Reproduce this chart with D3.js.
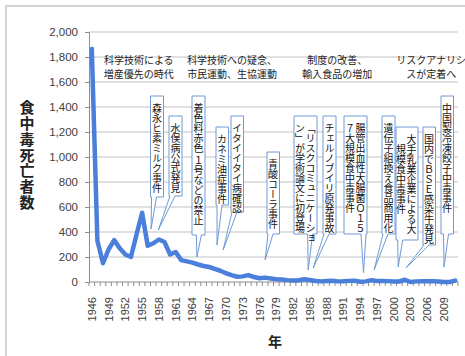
<!DOCTYPE html>
<html>
<head>
<meta charset="utf-8">
<script src="https://cdn.jsdelivr.net/npm/d3@7"></script>
<style>
  body { margin: 0; background: #fff; }
  svg { display: block; font-family: "Liberation Sans", Arial, sans-serif; }
  .jp { font-family: "Noto Sans CJK JP", sans-serif; }
</style>
</head>
<body>
<div id="chart"></div>
<script>
// years on the category axis
var years = [1946,1947,1948,1949,1950,1951,1952,1953,1954,1955,
             1956,1957,1958,1959,1960,1961,1962,1963,1964,1965,
             1966,1967,1968,1969,1970,1971,1972,1973,1974,1975,
             1976,1977,1978,1979,1980,1981,1982,1983,1984,1985,
             1986,1987,1988,1989,1990,1991,1992,1993,1994,1995,
             1996,1997,1998,1999,2000,2001,2002,2003,2004,2005,
             2006,2007,2008,2009,2010,2011];

// food poisoning deaths
var deaths = [1865, 330, 150, 260, 335, 270, 220, 200, 380, 554,
              290, 310, 340, 320, 220, 240, 175, 165, 155, 140,
              128, 120, 105, 90, 70, 55, 42, 45, 55, 40,
              30, 35, 28, 22, 20, 15, 12, 14, 22, 16,
              8, 5, 8, 10, 5, 6, 9, 10, 2, 5,
              15, 8, 9, 7, 4, 4, 18, 0, 5, 7,
              6, 7, 4, 0, 0, 11];

var yTicks = [0, 200, 400, 600, 800, 1000, 1200, 1400, 1600, 1800, 2000];
var xLabelYears = [1946,1949,1952,1955,1958,1961,1964,1967,1970,1973,1976,
                   1979,1982,1985,1988,1991,1994,1997,2000,2003,2006,2009];

// period labels: [centre year, line 1, line 2]
var periods = [
  [1954.4, "科学技術による", "増産優先の時代"],
  [1971.1, "科学技術への疑念、", "市民運動、生協運動"],
  [1989.9, "制度の改善、", "輸入食品の増加"],
  [2006.7, "リスクアナリシ", "スが定着へ"]
];

// callouts: columns of vertical text (right to left) and the point they refer to
var eventCols = [
  ["森永ヒ素ミルク事件"],
  ["水俣病公式発見"],
  ["着色料赤色 １号などの禁止"],
  ["カネミ油症事件"],
  ["イタイイタイ病確認"],
  ["青酸コーラ事件"],
  ["「リスクコミュニケーショ", "ン」が学術論文に初登場"],
  ["チェルノブイリ原発事故"],
  ["腸管出血性大腸菌Ｏ１５", "７大規模食中毒事件"],
  ["遺伝子組換え食品商用化"],
  ["大手乳業企業による大", "　規模食中毒事件"],
  ["国内でＢＳＥ感染牛発見"],
  ["中国製冷凍餃子中毒事件"]
];
var eventYears = [1956.6, 1957.9, 1964.8, 1968.4, 1969.5, 1977.0, 1984.7,
                  1985.6, 1994.6, 1996.5, 2000.8, 2002.2, 2009.0];
var eventVals = [424, 416, 200, 296, 256, 176, 96, 112, 72, 96, 120, 112, 120];

// box layout (left, top, width, height) in px
var boxes = [
  [150.5, 96, 13, 101], [169, 116, 13, 80], [192, 96, 13, 139],
  [216, 127, 12.5, 78], [231, 116, 12.5, 96], [267, 152, 12.5, 82],
  [294, 116, 23, 118], [323, 116, 13, 118], [344, 116, 23, 118],
  [382, 116, 13, 118], [396, 127, 22, 113], [423, 127, 12.5, 118],
  [441, 96, 12.5, 138]
];

var W = 465, H = 356;
var margin = {top: 32, right: 7, bottom: 74, left: 89};

var svg = d3.select("#chart").append("svg")
    .attr("width", W)
    .attr("height", H);

svg.append("rect").attr("width", W).attr("height", H).attr("fill", "#fff");

// outer frame (runs off the right and bottom edge)
svg.append("rect")
    .attr("x", 6).attr("y", 6)
    .attr("width", 480).attr("height", 380)
    .attr("fill", "none")
    .attr("stroke", "#d4d4d4")
    .attr("stroke-width", 2);

var x = d3.scaleBand()
    .domain(years)
    .range([margin.left, W - margin.right])
    .padding(0);
var bw = x.bandwidth();

var y = d3.scaleLinear()
    .domain([0, 2000])
    .range([H - margin.bottom, margin.top]);

// continuous year scale for annotations
var xYear = d3.scaleLinear()
    .domain([years[0], years[years.length - 1]])
    .range([x(years[0]) + bw / 2, x(years[years.length - 1]) + bw / 2]);

// gridlines
svg.append("g")
  .selectAll("line")
  .data(yTicks.slice(1))
  .enter().append("line")
    .attr("x1", margin.left)
    .attr("x2", W - margin.right)
    .attr("y1", function(d) { return y(d); })
    .attr("y2", function(d) { return y(d); })
    .attr("stroke", "#d6d6d6")
    .attr("stroke-width", 1.5);

// y axis
var yAxis = svg.append("g")
    .attr("transform", "translate(" + margin.left + ",0)")
    .call(d3.axisLeft(y).tickValues(yTicks).tickFormat(d3.format(",")).tickSize(4).tickPadding(7));
yAxis.select(".domain").attr("stroke", "#8c8c8c");
yAxis.selectAll(".tick line").attr("stroke", "#8c8c8c");
yAxis.selectAll("text")
    .attr("fill", "#404040")
    .style("font-size", "11.5px")
    .style("font-family", "'Liberation Sans', Arial, sans-serif");

// x axis line and ticks at category edges
var xAxisY = y(0);
svg.append("line")
    .attr("x1", margin.left).attr("x2", W - margin.right)
    .attr("y1", xAxisY).attr("y2", xAxisY)
    .attr("stroke", "#8c8c8c");
svg.append("g")
  .selectAll("line")
  .data(years.concat([null]))
  .enter().append("line")
    .attr("x1", function(d) { return d === null ? W - margin.right : x(d); })
    .attr("x2", function(d) { return d === null ? W - margin.right : x(d); })
    .attr("y1", xAxisY)
    .attr("y2", xAxisY + 4)
    .attr("stroke", "#8c8c8c");

svg.append("g")
  .selectAll("text")
  .data(xLabelYears)
  .enter().append("text")
    .attr("transform", function(d) {
      return "translate(" + (x(d) + bw / 2 + 4) + "," + (xAxisY + 15) + ") rotate(-90)";
    })
    .attr("text-anchor", "end")
    .attr("fill", "#404040")
    .style("font-size", "11px")
    .text(function(d) { return d; });

// the line
var line = d3.line()
    .x(function(d, i) { return x(years[i]) + bw / 2; })
    .y(function(d) { return y(d); });

svg.append("path")
    .datum(deaths)
    .attr("d", line)
    .attr("fill", "none")
    .attr("stroke", "#4a7fdc")
    .attr("stroke-width", 4.5)
    .attr("stroke-linejoin", "round")
    .attr("stroke-linecap", "round");

// period labels (two lines)
var per = svg.append("g").attr("class", "jp");
periods.forEach(function(p) {
  per.append("text")
    .attr("x", xYear(p[0])).attr("y", 63.5)
    .attr("text-anchor", "middle")
    .style("font-size", "10px")
    .attr("fill", "#222")
    .text(p[1]);
  per.append("text")
    .attr("x", xYear(p[0])).attr("y", 77.5)
    .attr("text-anchor", "middle")
    .style("font-size", "10px")
    .attr("fill", "#222")
    .text(p[2]);
});

// callouts
var co = svg.append("g").attr("class", "jp");
eventCols.forEach(function(cols, i) {
  var b = boxes[i];
  var l = b[0], t = b[1], r = b[0] + b[2], bt = b[1] + b[3];
  var tx = xYear(eventYears[i]), ty = y(eventVals[i]);
  var bc = Math.max(l + 3.5, Math.min(r - 3.5, tx + 2));
  var p = "M" + l + "," + t + "H" + r + "V" + bt +
          "H" + (bc + 2.5) + "L" + tx + "," + ty + "L" + (bc - 2.5) + "," + bt +
          "H" + l + "Z";
  co.append("path")
    .attr("d", p)
    .attr("fill", "#fff")
    .attr("stroke", "#6f9ad6")
    .attr("stroke-width", 1);
  var txt = co.append("text")
      .style("writing-mode", "vertical-rl")
      .style("font-size", "10px")
      .attr("fill", "#111");
  cols.forEach(function(c, j) {
    txt.append("tspan")
      .attr("x", r - 6.5 - j * 10.5)
      .attr("y", t + 7)
      .text(c);
  });
});

// axis titles
svg.append("text")
    .attr("class", "jp")
    .attr("x", 27).attr("y", 100)
    .style("writing-mode", "vertical-rl")
    .style("font-size", "15px")
    .style("font-weight", "bold")
    .style("letter-spacing", "0.8px")
    .attr("fill", "#222")
    .text("食中毒死亡者数");

svg.append("text")
    .attr("class", "jp")
    .attr("x", 275).attr("y", 347)
    .attr("text-anchor", "middle")
    .style("font-size", "14px")
    .style("font-weight", "bold")
    .attr("fill", "#222")
    .text("年");
</script>
</body>
</html>
